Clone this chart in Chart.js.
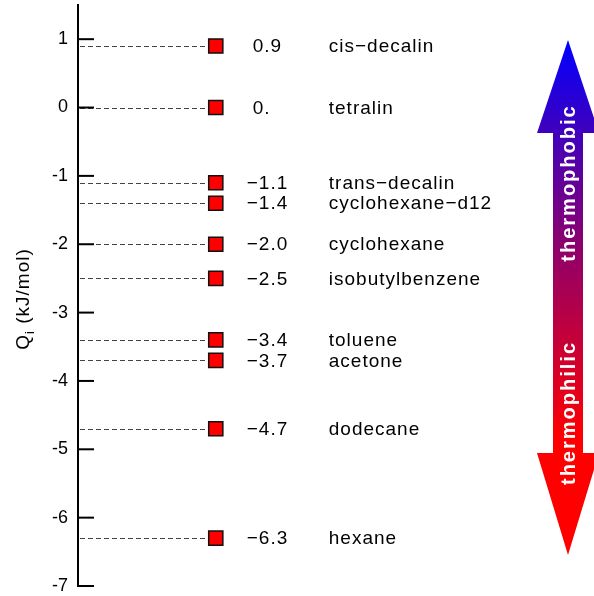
<!DOCTYPE html>
<html>
<head>
<meta charset="utf-8">
<script src="https://cdn.jsdelivr.net/npm/chart.js@4.4.1/dist/chart.umd.min.js"></script>
<style>
  html, body { margin: 0; padding: 0; background: #fff; }
  #wrap { width: 594px; height: 596px; }
</style>
</head>
<body>
<div id="wrap"><canvas id="qi_chart"></canvas></div>
<script>
// solvents and their heat of transport Q_i
var solvents = ['cis−decalin', 'tetralin', 'trans−decalin', 'cyclohexane−d12', 'cyclohexane',
                'isobutylbenzene', 'toluene', 'acetone', 'dodecane', 'hexane'];
var qiValues = [0.9, 0, -1.1, -1.4, -2.0, -2.5, -3.4, -3.7, -4.7, -6.3];
var qiLabels = ['0.9', '0.', '−1.1', '−1.4', '−2.0', '−2.5', '−3.4', '−3.7', '−4.7', '−6.3'];
var yTicks = [-7, -6, -5, -4, -3, -2, -1, 0, 1];
var arrowTexts = ['thermophobic', 'thermophilic'];

var markerX = 26.7;   // column of the markers on the hidden x scale (0..100)
var textFont = '19px "Liberation Sans", Arial, sans-serif';

var points = [];
for (var i = 0; i < qiValues.length; i++) {
    points.push({x: markerX, y: qiValues[i]});
}

const qiPlugin = {
    id: 'qiPlugin',
    beforeDatasetsDraw(chart) {
        const ctx = chart.ctx;
        const xs = chart.scales.x, ys = chart.scales.y;
        const left = chart.chartArea.left;
        ctx.save();
        ctx.strokeStyle = '#444';
        ctx.lineWidth = 1.2;
        ctx.setLineDash([5, 3]);
        for (var i = 0; i < qiValues.length; i++) {
            var y = Math.round(ys.getPixelForValue(qiValues[i])) + 0.5;
            ctx.beginPath();
            ctx.moveTo(left + 2, y);
            ctx.lineTo(xs.getPixelForValue(markerX) - 7, y);
            ctx.stroke();
        }
        ctx.restore();
    },
    afterDatasetsDraw(chart) {
        const ctx = chart.ctx;
        const xs = chart.scales.x, ys = chart.scales.y;
        const left = chart.chartArea.left;
        const mx = xs.getPixelForValue(markerX);
        ctx.save();

        // inner tick marks and tick labels
        ctx.strokeStyle = '#000';
        ctx.fillStyle = '#000';
        ctx.lineWidth = 2;
        ctx.setLineDash([]);
        ctx.font = '18px "Liberation Sans", Arial, sans-serif';
        ctx.textAlign = 'right';
        ctx.textBaseline = 'middle';
        yTicks.forEach(function (t) {
            var y = ys.getPixelForValue(t);
            ctx.beginPath();
            ctx.moveTo(left - 1, y);
            ctx.lineTo(left + 16, y);
            ctx.stroke();
            ctx.fillText(String(t), left - 10, y);
        });

        // value labels and names
        ctx.font = textFont;
        ctx.letterSpacing = '1px';
        ctx.textAlign = 'left';
        for (var i = 0; i < qiValues.length; i++) {
            var y = ys.getPixelForValue(qiValues[i]) + 1;
            ctx.fillText(qiLabels[i], mx + (qiValues[i] < 0 ? 31 : 37), y);
            ctx.fillText(solvents[i], mx + 113, y);
        }

        // axis title Q_i (kJ/mol)
        ctx.save();
        ctx.translate(22, 299);
        ctx.rotate(-Math.PI / 2);
        ctx.textBaseline = 'alphabetic';
        ctx.letterSpacing = '1px';
        var wQ = ctx.measureText('Q').width;
        ctx.font = '13px "Liberation Sans", Arial, sans-serif';
        var wi = ctx.measureText('i').width;
        ctx.font = textFont;
        var wRest = ctx.measureText(' (kJ/mol)').width;
        var x0 = -(wQ + wi + wRest) / 2;
        ctx.fillText('Q', x0, 7);
        ctx.font = '13px "Liberation Sans", Arial, sans-serif';
        ctx.fillText('i', x0 + wQ, 12);
        ctx.font = textFont;
        ctx.fillText(' (kJ/mol)', x0 + wQ + wi, 7);
        ctx.restore();

        // double-headed gradient arrow
        var cx = 568, sw = 15, hw = 31;
        var tipTop = 40, baseTop = 133, baseBot = 453, tipBot = 555;
        var grad = ctx.createLinearGradient(0, tipTop, 0, 440);
        grad.addColorStop(0, '#0000ff');
        grad.addColorStop(0.5, '#8a0070');
        grad.addColorStop(1, '#ff0000');
        ctx.fillStyle = grad;
        ctx.beginPath();
        ctx.moveTo(cx, tipTop);
        ctx.lineTo(cx + hw, baseTop);
        ctx.lineTo(cx + sw, baseTop);
        ctx.lineTo(cx + sw, baseBot);
        ctx.lineTo(cx + hw, baseBot);
        ctx.lineTo(cx, tipBot);
        ctx.lineTo(cx - hw, baseBot);
        ctx.lineTo(cx - sw, baseBot);
        ctx.lineTo(cx - sw, baseTop);
        ctx.lineTo(cx - hw, baseTop);
        ctx.closePath();
        ctx.fill();

        ctx.fillStyle = '#fff';
        ctx.font = 'bold 20px "Liberation Sans", Arial, sans-serif';
        ctx.letterSpacing = '2px';
        ctx.textAlign = 'center';
        ctx.textBaseline = 'middle';
        [[arrowTexts[0], 183], [arrowTexts[1], 413]].forEach(function (a) {
            ctx.save();
            ctx.translate(cx + 1, a[1]);
            ctx.rotate(-Math.PI / 2);
            ctx.fillText(a[0], 0, 0);
            ctx.restore();
        });

        ctx.restore();
    }
};

const configQi = {
    type: 'scatter',
    data: {
        datasets: [{
            data: points,
            pointStyle: 'rect',
            pointRadius: 10,
            pointHoverRadius: 10,
            pointBackgroundColor: '#ff0000',
            pointBorderColor: '#111',
            pointBorderWidth: 1.5,
            clip: false
        }]
    },
    options: {
        responsive: true,
        maintainAspectRatio: false,
        animation: false,
        layout: {
            autoPadding: false,
            padding: {top: 5, bottom: 10, left: 0, right: 0}
        },
        plugins: {
            legend: {display: false},
            tooltip: {enabled: false}
        },
        scales: {
            x: {
                type: 'linear',
                display: false,
                min: 0,
                max: 100
            },
            y: {
                min: -7,
                max: 1.5,
                afterBuildTicks: function (axis) {
                    axis.ticks = yTicks.map(function (v) { return {value: v}; });
                },
                afterFit: function (axis) {
                    axis.width = 78;
                },
                grid: {display: false, drawTicks: false},
                border: {display: true, color: '#000', width: 2},
                ticks: {display: false}
            }
        }
    },
    plugins: [qiPlugin]
};

const myChartQi = new Chart(document.getElementById('qi_chart'), configQi);
</script>
</body>
</html>
